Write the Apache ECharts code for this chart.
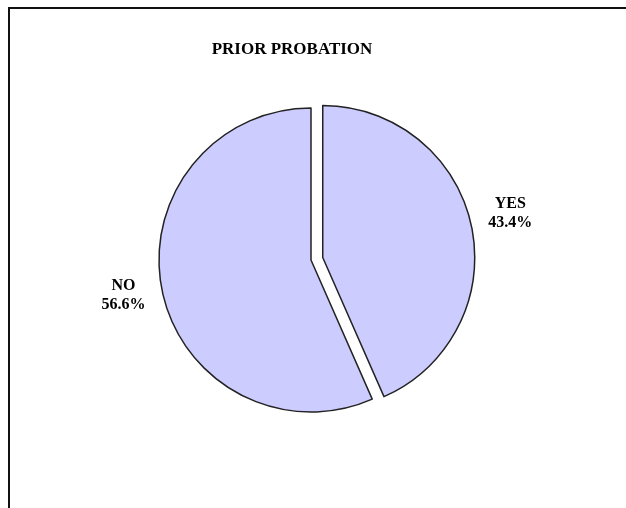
<!DOCTYPE html>
<html>
<head>
<meta charset="utf-8">
<script src="https://cdn.jsdelivr.net/npm/echarts@6/dist/echarts.min.js"></script>
<style>
  html, body { margin: 0; padding: 0; background: #fff; }
  #frame { position: absolute; left: 8px; top: 7px; width: 640px; height: 520px;
           border-left: 2px solid #111; border-top: 2px solid #111; }
  #container { position: absolute; left: 0; top: 0; width: 626px; height: 508px; }
</style>
</head>
<body>
<div id="frame"></div>
<div id="container"></div>
<script>
var titleText = "PRIOR PROBATION";
var categories = ["YES", "NO"];
var values = [43.4, 56.6];

var chartDom = document.getElementById("container");
var myChart = echarts.init(chartDom, null, { renderer: "canvas" });

var pieData = [];
for (var i = 0; i < categories.length; i++) {
  pieData.push({ name: categories[i], value: values[i], selected: i === 0 });
}

myChart.setOption({
  backgroundColor: "transparent",
  animation: false,
  title: {
    text: titleText,
    left: 287,
    top: 36,
    textAlign: "center",
    textStyle: {
      fontFamily: "Liberation Serif",
      fontWeight: "bold",
      fontSize: 17,
      color: "#000"
    }
  },
  series: [{
    type: "pie",
    center: [311, 260],
    radius: 152,
    startAngle: 90,
    clockwise: true,
    selectedMode: "single",
    selectedOffset: 12,
    avoidLabelOverlap: false,
    itemStyle: {
      color: "#ccccff",
      borderColor: "#222",
      borderWidth: 1.5
    },
    emphasis: { disabled: true },
    select: { itemStyle: { color: "#ccccff", borderColor: "#222", borderWidth: 1.5 } },
    label: {
      show: true,
      position: "outside",
      formatter: function (p) { return p.name + "\n" + p.value.toFixed(1) + "%"; },
      fontFamily: "Liberation Serif",
      fontWeight: "bold",
      fontSize: 16,
      lineHeight: 19,
      color: "#000"
    },
    labelLine: { show: false, length: 12, length2: 0 },
    labelLayout: function (params) {
      var right = params.align === "left";
      return {
        align: "center",
        dx: right ? params.labelRect.width / 2 : -params.labelRect.width / 2,
        dy: right ? -10 : 2
      };
    },
    data: pieData
  }]
});
</script>
</body>
</html>
